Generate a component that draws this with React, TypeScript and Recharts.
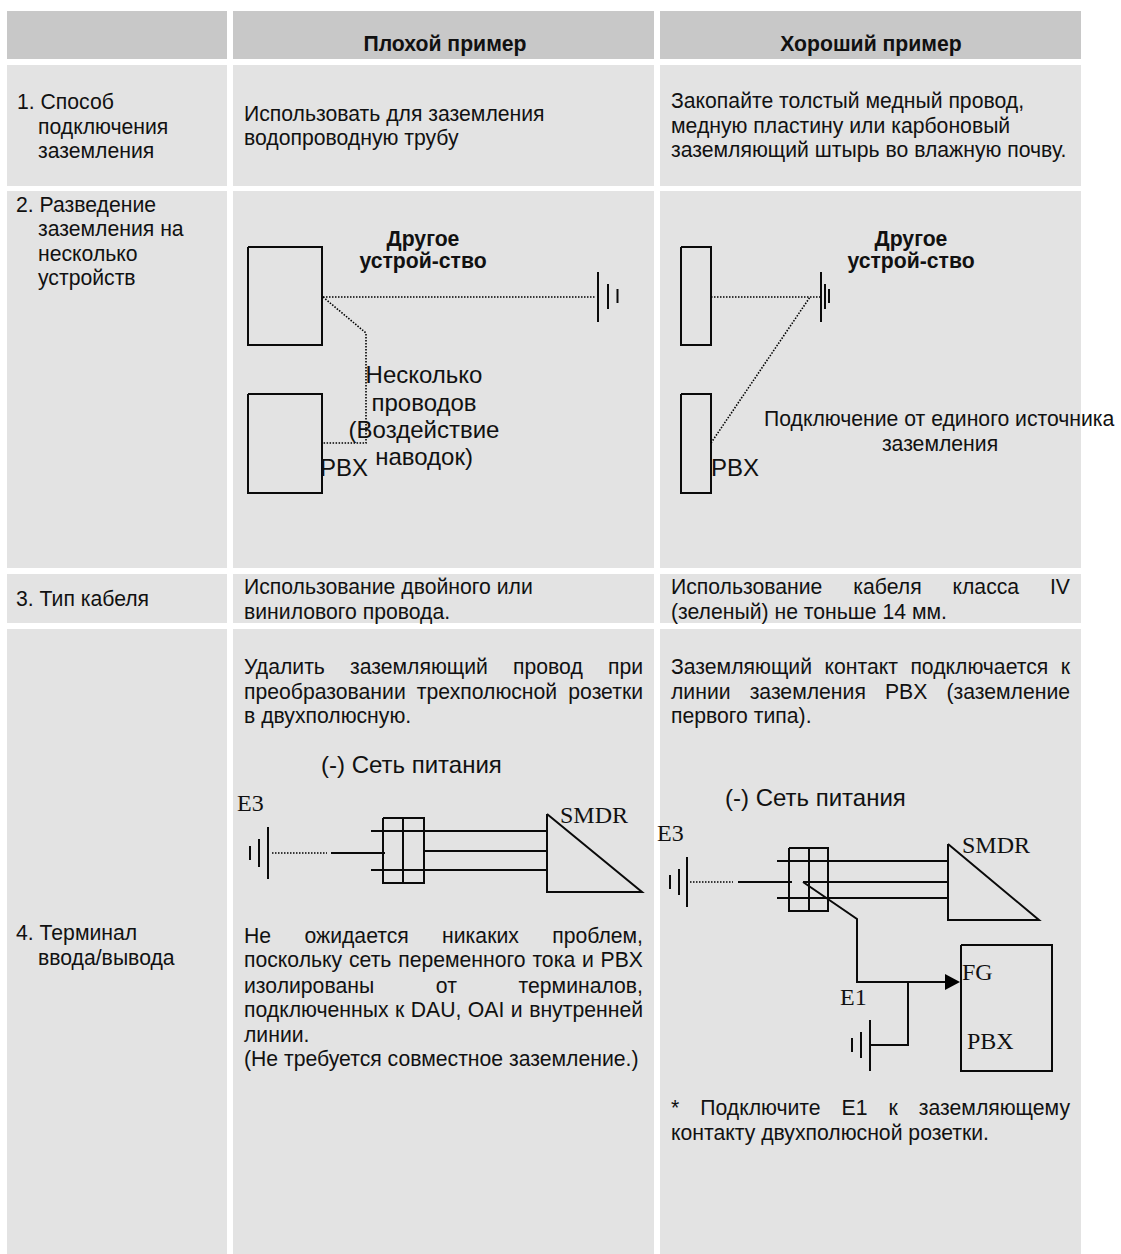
import React from "react";
import { ComposedChart, XAxis, YAxis, Line, Scatter, ReferenceArea } from "recharts";

type Pt = { x: number; y: number };
type Txt = { x: number; y: number; text: string; to?: number };

const W = 1121;
const H = 1254;

// Table cells: [x1, x2, y1, y2]
const HEADER_CELLS = [
  [7, 227, 11, 59],
  [233, 654, 11, 59],
  [660, 1081, 11, 59],
];
const BODY_CELLS = [
  [7, 227, 65, 186],
  [233, 654, 65, 186],
  [660, 1081, 65, 186],
  [7, 227, 191, 568],
  [233, 654, 191, 568],
  [660, 1081, 191, 568],
  [7, 227, 574, 623],
  [233, 654, 574, 623],
  [660, 1081, 574, 623],
  [7, 227, 629, 1254],
  [233, 654, 629, 1254],
  [660, 1081, 629, 1254],
];

const poly = (...v: number[]): Pt[] => {
  const out: Pt[] = [];
  for (let i = 0; i < v.length; i += 2) out.push({ x: v[i], y: v[i + 1] });
  return out;
};

// Solid wires and outlines
const SOLID: Pt[][] = [
  poly(248, 247, 322, 247, 322, 345, 248, 345, 248, 247),
  poly(248, 394, 322, 394, 322, 493, 248, 493, 248, 394),
  poly(598, 272, 598, 322),
  poly(608, 284, 608, 309),
  poly(617.5, 289, 617.5, 303),
  poly(681, 247, 711, 247, 711, 345, 681, 345, 681, 247),
  poly(681, 394, 711, 394, 711, 493, 681, 493, 681, 394),
  poly(821, 272, 821, 322),
  poly(825, 284, 825, 309),
  poly(829, 289, 829, 303),
  // left power diagram
  poly(268, 827, 268, 879),
  poly(259, 839, 259, 867),
  poly(250, 846, 250, 860),
  poly(331, 853, 385, 853),
  poly(383, 818, 424, 818, 424, 883, 383, 883, 383, 818),
  poly(403, 818, 403, 883),
  poly(371, 831, 547, 831),
  poly(425, 851, 547, 851),
  poly(371, 870, 547, 870),
  poly(547, 814, 642, 892, 547, 892, 547, 814),
  // right power diagram
  poly(687, 857, 687, 907),
  poly(679, 869, 679, 895),
  poly(670, 875, 670, 889),
  poly(738, 882, 792, 882),
  poly(789, 848, 828, 848, 828, 911, 789, 911, 789, 848),
  poly(809, 848, 809, 911),
  poly(777, 861, 948, 861),
  poly(803, 882, 948, 882),
  poly(777, 898, 948, 898),
  poly(948, 844, 1039, 920, 948, 920, 948, 844),
  poly(803, 882, 857, 919, 857, 982, 948, 982),
  poly(908, 982, 908, 1045, 870, 1045),
  poly(870, 1020, 870, 1071),
  poly(861, 1032, 861, 1058),
  poly(852, 1038, 852, 1052),
  poly(961, 945, 1052, 945, 1052, 1071, 961, 1071, 961, 945),
];

// Dotted wires
const DOTTED: Pt[][] = [
  poly(323, 297, 596, 297),
  poly(323, 297, 366, 333, 366, 443, 323, 443),
  poly(711, 297, 820, 297),
  poly(711, 443, 810, 297),
  poly(272, 853, 327, 853),
  poly(690, 882, 733, 882),
];

const ARROW_TIPS: Pt[] = [{ x: 960, y: 982 }];

const BODY_LEFT: Txt[] = [
  { x: 17, y: 109, text: "1. Способ" },
  { x: 38, y: 134, text: "подключения" },
  { x: 38, y: 158, text: "заземления" },
  { x: 16, y: 212, text: "2. Разведение" },
  { x: 38, y: 236, text: "заземления на" },
  { x: 38, y: 261, text: "несколько" },
  { x: 38, y: 285, text: "устройств" },
  { x: 16, y: 606, text: "3. Тип кабеля" },
  { x: 16, y: 940, text: "4. Терминал" },
  { x: 38, y: 965, text: "ввода/вывода" },
  { x: 244, y: 121, text: "Использовать для заземления" },
  { x: 244, y: 145, text: "водопроводную трубу" },
  { x: 671, y: 108, text: "Закопайте толстый медный провод," },
  { x: 671, y: 133, text: "медную пластину или карбоновый" },
  { x: 671, y: 157, text: "заземляющий штырь во влажную почву." },
  { x: 244, y: 594, text: "Использование двойного или" },
  { x: 244, y: 619, text: "винилового провода." },
  { x: 671, y: 594, text: "Использование кабеля класса IV", to: 1070 },
  { x: 671, y: 619, text: "(зеленый) не тоньше 14 мм." },
  { x: 244, y: 674, text: "Удалить заземляющий провод при", to: 643 },
  { x: 244, y: 699, text: "преобразовании трехполюсной розетки", to: 643 },
  { x: 244, y: 723, text: "в двухполюсную." },
  { x: 671, y: 674, text: "Заземляющий контакт подключается к", to: 1070 },
  { x: 671, y: 699, text: "линии заземления PBX (заземление", to: 1070 },
  { x: 671, y: 723, text: "первого типа)." },
  { x: 244, y: 943, text: "Не ожидается никаких проблем,", to: 643 },
  { x: 244, y: 967, text: "поскольку сеть переменного тока и PBX", to: 643 },
  { x: 244, y: 993, text: "изолированы от терминалов,", to: 643 },
  { x: 244, y: 1017, text: "подключенных к DAU, OAI и внутренней", to: 643 },
  { x: 244, y: 1042, text: "линии." },
  { x: 244, y: 1066, text: "(Не требуется совместное заземление.)" },
  { x: 671, y: 1115, text: "* Подключите E1 к заземляющему", to: 1070 },
  { x: 671, y: 1140, text: "контакту двухполюсной розетки." },
  { x: 764, y: 426, text: "Подключение от единого источника" },
];

const BODY_CENTER: Txt[] = [{ x: 940, y: 451, text: "заземления" }];

const BOLD_CENTER: Txt[] = [
  { x: 445, y: 51, text: "Плохой пример" },
  { x: 871, y: 51, text: "Хороший пример" },
  { x: 423, y: 246, text: "Другое" },
  { x: 423, y: 268, text: "устрой-ство" },
  { x: 911, y: 246, text: "Другое" },
  { x: 911, y: 268, text: "устрой-ство" },
];

const LARGE_CENTER: Txt[] = [
  { x: 424, y: 383, text: "Несколько" },
  { x: 424, y: 411, text: "проводов" },
  { x: 424, y: 438, text: "(Воздействие" },
  { x: 424, y: 465, text: "наводок)" },
];

const LARGE_LEFT: Txt[] = [
  { x: 320, y: 476, text: "PBX" },
  { x: 711, y: 476, text: "PBX" },
  { x: 321, y: 773, text: "(-) Сеть питания" },
  { x: 725, y: 806, text: "(-) Сеть питания" },
];

const SERIF_LEFT: Txt[] = [
  { x: 237, y: 811, text: "E3" },
  { x: 560, y: 823, text: "SMDR" },
  { x: 657, y: 841, text: "E3" },
  { x: 962, y: 853, text: "SMDR" },
  { x: 962, y: 980, text: "FG" },
  { x: 840, y: 1005, text: "E1" },
  { x: 967, y: 1049, text: "PBX" },
];

const SANS = '"Liberation Sans", Arial, sans-serif';
const SERIF = '"Liberation Serif", "Times New Roman", serif';

let ctx: CanvasRenderingContext2D | null = null;
function measure(text: string, font: string): number {
  if (!ctx) ctx = document.createElement("canvas").getContext("2d");
  ctx!.font = font;
  return ctx!.measureText(text).width;
}

const textShape = (size: number, family: string, anchor: string, weight: string) => (props: any) => {
  const { cx, cy, payload } = props;
  let wordSpacing: number | undefined;
  if (payload.to) {
    const nat = measure(payload.text, `${weight} ${size}px ${family}`);
    const gaps = payload.text.split(" ").length - 1;
    if (gaps > 0) wordSpacing = (payload.to - payload.x - nat) / gaps;
  }
  return (
    <text
      x={cx}
      y={cy}
      fontSize={size}
      fontFamily={family}
      fontWeight={weight}
      textAnchor={anchor}
      fill="#111"
      style={wordSpacing !== undefined ? { wordSpacing: `${wordSpacing}px` } : undefined}
    >
      {payload.text}
    </text>
  );
};

const arrowShape = (props: any) => {
  const { cx, cy } = props;
  return <polygon points={`${cx},${cy} ${cx - 15},${cy - 8} ${cx - 15},${cy + 8}`} fill="#000" />;
};

export default function App() {
  return (
    <div style={{ position: "absolute", left: 0, top: 0, width: W, height: H, background: "#fff" }}>
      <ComposedChart width={W} height={H} margin={{ top: 0, right: 0, bottom: 0, left: 0 }}>
        <XAxis type="number" dataKey="x" domain={[0, W]} hide />
        <YAxis type="number" dataKey="y" domain={[0, H]} reversed hide />
        {HEADER_CELLS.map((c, i) => (
          <ReferenceArea key={`h${i}`} x1={c[0]} x2={c[1]} y1={c[2]} y2={c[3]} fill="#c8c8c8" fillOpacity={1} stroke="none" />
        ))}
        {BODY_CELLS.map((c, i) => (
          <ReferenceArea key={`b${i}`} x1={c[0]} x2={c[1]} y1={c[2]} y2={c[3]} fill="#e3e3e3" fillOpacity={1} stroke="none" />
        ))}
        {SOLID.map((d, i) => (
          <Line key={`s${i}`} data={d} dataKey="y" stroke="#0a0a0a" strokeWidth={2} dot={false} activeDot={false} isAnimationActive={false} legendType="none" />
        ))}
        {DOTTED.map((d, i) => (
          <Line key={`d${i}`} data={d} dataKey="y" stroke="#000" strokeWidth={1.6} strokeDasharray="1.5 1.5" dot={false} activeDot={false} isAnimationActive={false} legendType="none" />
        ))}
        <Scatter data={ARROW_TIPS} shape={arrowShape} isAnimationActive={false} />
        <Scatter data={BODY_LEFT} shape={textShape(21.2, SANS, "start", "normal")} isAnimationActive={false} />
        <Scatter data={BODY_CENTER} shape={textShape(21.2, SANS, "middle", "normal")} isAnimationActive={false} />
        <Scatter data={BOLD_CENTER} shape={textShape(21.2, SANS, "middle", "bold")} isAnimationActive={false} />
        <Scatter data={LARGE_CENTER} shape={textShape(24, SANS, "middle", "normal")} isAnimationActive={false} />
        <Scatter data={LARGE_LEFT} shape={textShape(24, SANS, "start", "normal")} isAnimationActive={false} />
        <Scatter data={SERIF_LEFT} shape={textShape(24, SERIF, "start", "normal")} isAnimationActive={false} />
      </ComposedChart>
    </div>
  );
}
